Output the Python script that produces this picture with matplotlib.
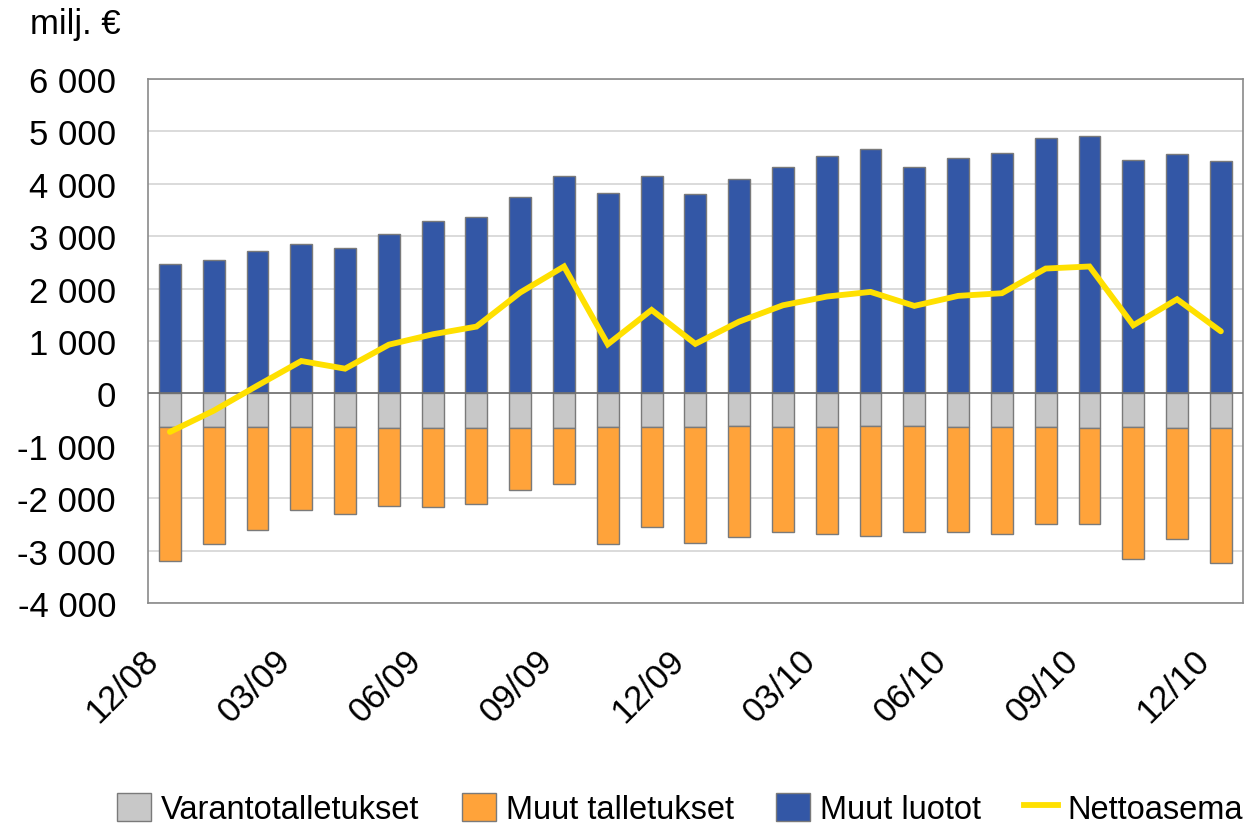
import matplotlib
matplotlib.use("Agg")
import matplotlib.pyplot as plt
import matplotlib.transforms as mtransforms
from matplotlib.patches import Patch
from matplotlib.lines import Line2D
import numpy as np

plt.rcParams['font.family'] = ['Liberation Sans', 'DejaVu Sans']

months = ["12/08", "01/09", "02/09", "03/09", "04/09", "05/09", "06/09", "07/09",
          "08/09", "09/09", "10/09", "11/09", "12/09", "01/10", "02/10", "03/10",
          "04/10", "05/10", "06/10", "07/10", "08/10", "09/10", "10/10", "11/10", "12/10"]

# Reserve deposits (negative)
varantotalletukset = [-637, -637, -637, -650, -650, -656, -656, -656, -656, -656,
                      -650, -637, -637, -618, -637, -637, -630, -630, -637, -644,
                      -650, -656, -650, -656, -663]
# Other deposits (negative, stacked below reserve deposits)
muut_talletukset = [-2569, -2237, -1963, -1574, -1657, -1485, -1517, -1447, -1192, -1064,
                    -2224, -1912, -2218, -2129, -2002, -2040, -2098, -2021, -2002, -2033,
                    -1842, -1842, -2517, -2123, -2568]
# Other loans (positive)
muut_luotot = [2460, 2549, 2715, 2849, 2766, 3046, 3282, 3359, 3747, 4142,
               3817, 4149, 3805, 4085, 4314, 4525, 4659, 4314, 4499, 4595,
               4875, 4920, 4461, 4576, 4429]
# Net position
nettoasema = [-735, -330, 150, 618, 472, 930, 1128, 1275, 1925, 2422,
              937, 1593, 945, 1370, 1682, 1848, 1937, 1670, 1861, 1912,
              2383, 2422, 1300, 1797, 1185]

yticks = [-4000, -3000, -2000, -1000, 0, 1000, 2000, 3000, 4000, 5000, 6000]
ytick_labels = ["-4 000", "-3 000", "-2 000", "-1 000", "0", "1 000", "2 000",
                "3 000", "4 000", "5 000", "6 000"]

c_gray = "#C8C8C8"
c_orange = "#FFA33A"
c_blue = "#3357A6"
c_yellow = "#FFE000"
c_edge = "#7A7A7A"

fig = plt.figure(figsize=(12.49, 8.28), dpi=100)
ax = fig.add_axes([0.1185, 0.2705, 0.8765, 0.6329])

x = np.arange(len(months))
w = 0.5
ax.bar(x, muut_luotot, width=w, color=c_blue, edgecolor=c_edge, linewidth=1.0, zorder=3)
ax.bar(x, varantotalletukset, width=w, color=c_gray, edgecolor=c_edge, linewidth=1.0, zorder=3)
ax.bar(x, muut_talletukset, width=w, bottom=varantotalletukset, color=c_orange,
       edgecolor=c_edge, linewidth=1.0, zorder=3)
ax.plot(x, nettoasema, color=c_yellow, linewidth=4.2, solid_joinstyle='miter',
        solid_capstyle='round', zorder=5)

ax.set_xlim(-0.5, len(months) - 0.5)
ax.set_ylim(-4000, 6000)
ax.set_yticks(yticks)
ax.set_yticklabels(ytick_labels, fontsize=25)
ax.yaxis.grid(True, color="#D4D4D4", linewidth=1.2, zorder=0)
ax.axhline(0, color="#707070", linewidth=1.2, zorder=4)

tick_idx = list(range(0, len(months), 3))
ax.set_xticks(tick_idx)
ax.set_xticklabels([months[i] for i in tick_idx], fontsize=25, rotation=45,
                   ha='right', rotation_mode='anchor')
ax.tick_params(axis='y', length=0, pad=23)
ax.tick_params(axis='x', length=0, pad=14)

shift = mtransforms.ScaledTranslation(-0.28, -0.21, fig.dpi_scale_trans)
for lbl in ax.get_xticklabels():
    lbl.set_transform(lbl.get_transform() + shift)

for side in ['left', 'bottom', 'top', 'right']:
    ax.spines[side].set_color("#8A8A8A")
    ax.spines[side].set_linewidth(1.2)

fig.text(0.024, 0.97, "milj. €", fontsize=25, va='center', ha='left')

handles = [
    Patch(facecolor=c_gray, edgecolor=c_edge, label="Varantotalletukset"),
    Patch(facecolor=c_orange, edgecolor=c_edge, label="Muut talletukset"),
    Patch(facecolor=c_blue, edgecolor=c_edge, label="Muut luotot"),
    Line2D([0], [0], color=c_yellow, linewidth=4.2, label="Nettoasema"),
]
fig.legend(handles=handles, loc='center', bbox_to_anchor=(0.5444, 0.022), ncol=4,
           frameon=False, fontsize=23.5, handlelength=1.05, handleheight=0.95,
           handletextpad=0.3, columnspacing=1.3, borderaxespad=0)

fig.savefig("out.png", dpi=100)
